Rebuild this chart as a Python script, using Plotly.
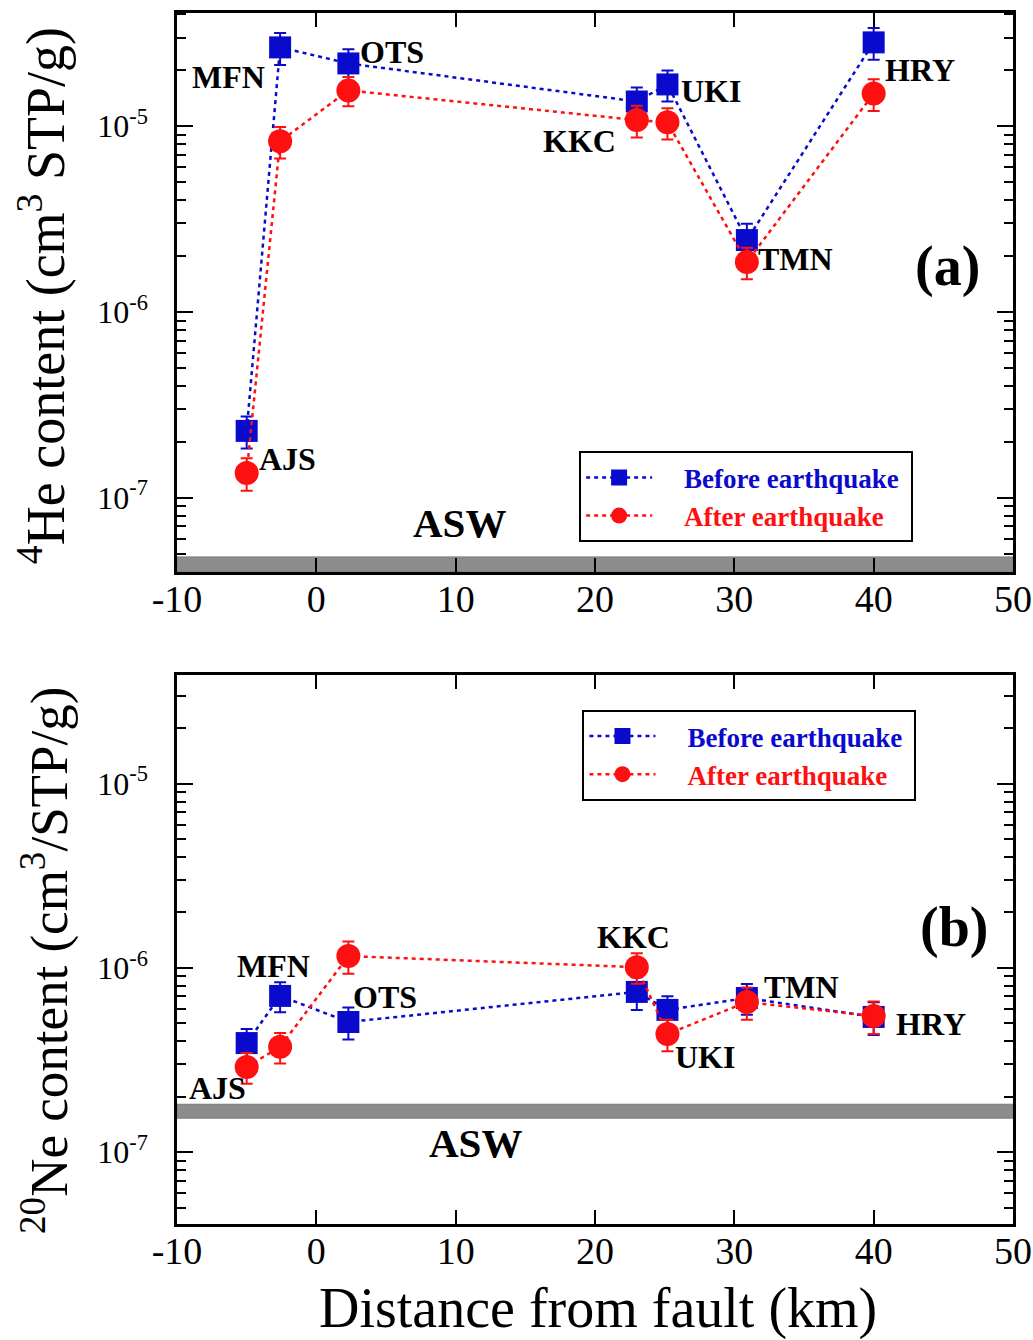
import plotly.graph_objects as go

# ---------------- data ----------------
stations = ["AJS", "MFN", "OTS", "KKC", "UKI", "TMN", "HRY"]
distance_km = [-5.0, -2.6, 2.3, 23.0, 25.2, 30.9, 40.0]

he_before = [2.29e-7, 2.66e-5, 2.18e-5, 1.36e-5, 1.68e-5, 2.44e-6, 2.83e-5]
he_before_err = [4.5e-8, 5.2e-6, 4.2e-6, 2.6e-6, 3.2e-6, 5.5e-7, 5.5e-6]
he_after = [1.36e-7, 8.3e-6, 1.56e-5, 1.08e-5, 1.05e-5, 1.86e-6, 1.50e-5]
he_after_err = [2.7e-8, 1.6e-6, 2.8e-6, 2.1e-6, 2.0e-6, 3.6e-7, 2.9e-6]

ne_before = [3.91e-7, 7.05e-7, 5.09e-7, 7.41e-7, 5.92e-7, 6.87e-7, 5.42e-7]
ne_before_err = [7.5e-8, 1.3e-7, 1.0e-7, 1.5e-7, 1.1e-7, 1.3e-7, 1.1e-7]
ne_after = [2.90e-7, 3.73e-7, 1.16e-6, 1.01e-6, 4.38e-7, 6.53e-7, 5.48e-7]
ne_after_err = [5.5e-8, 7.0e-8, 2.3e-7, 1.9e-7, 8.5e-8, 1.3e-7, 1.1e-7]

asw_he = [3.98e-8, 4.8e-8]    # ASW band, 4He
asw_ne = [1.53e-7, 1.82e-7]   # ASW band, 20Ne

x_ticks = [-10, 0, 10, 20, 30, 40, 50]
x_ticktext = ["-10", "0", "10", "20", "30", "40", "50"]
y_ticks = [1e-7, 1e-6, 1e-5]
y_ticktext = ["10<sup>-7</sup>", "10<sup>-6</sup>", "10<sup>-5</sup>"]

# ---------------- style ----------------
FONT = "Liberation Serif"
BLUE = "#0a0acc"
RED = "#ff1010"

# label positions (x in km, y in log10 units) for annotations
he_label_pos = {"AJS": (-2.1, -6.79), "MFN": (-6.3, -4.737), "OTS": (5.4, -4.602),
                "KKC": (18.9, -5.081), "UKI": (28.35, -4.812), "TMN": (34.4, -5.715),
                "HRY": (43.3, -4.699)}
ne_label_pos = {"AJS": (-7.1, -6.652), "MFN": (-3.1, -5.989), "OTS": (4.9, -6.158),
                "KKC": (22.76, -5.832), "UKI": (27.9, -6.484), "TMN": (34.8, -6.103),
                "HRY": (44.1, -6.304)}

minor_vals = [m * 10.0 ** e for e in range(-9, -3) for m in range(2, 10)]

fig = go.Figure()


def add_series(y, err, xa, ya, name, color, symbol, size, legend):
    fig.add_trace(go.Scatter(
        x=distance_km, y=y, xaxis=xa, yaxis=ya,
        mode="lines+markers",
        name=("&nbsp;&nbsp;&nbsp;&nbsp;<span style='color:%s'><b>%s</b></span>&nbsp;"
              % (color, name)),
        line=dict(color=color, width=2.5, dash="4px,4px", shape="linear"),
        marker=dict(color=color, symbol=symbol, size=size, line=dict(width=0)),
        error_y=dict(type="data", array=err, color=color, thickness=2, width=6),
        legend=legend,
    ))


add_series(he_before, he_before_err, "x", "y", "Before earthquake", BLUE, "square", 22, "legend")
add_series(he_after, he_after_err, "x", "y", "After earthquake", RED, "circle", 24, "legend")
add_series(ne_before, ne_before_err, "x2", "y2", "Before earthquake", BLUE, "square", 22, "legend2")
add_series(ne_after, ne_after_err, "x2", "y2", "After earthquake", RED, "circle", 24, "legend2")

# ASW bands
fig.add_shape(type="rect", xref="x domain", yref="y", x0=0, x1=1, y0=asw_he[0], y1=asw_he[1],
              fillcolor="#8c8c8c", line=dict(color="#7a7a7a", width=1), layer="below")
fig.add_shape(type="rect", xref="x2 domain", yref="y2", x0=0, x1=1, y0=asw_ne[0], y1=asw_ne[1],
              fillcolor="#8c8c8c", line=dict(color="#7a7a7a", width=1), layer="below")

annotations = []
for s in stations:
    px, py = he_label_pos[s]
    annotations.append(dict(x=px, y=py, xref="x", yref="y", text=f"<b>{s}</b>", showarrow=False,
                            xanchor="center", yanchor="middle",
                            font=dict(family=FONT, size=32, color="black")))
    px, py = ne_label_pos[s]
    annotations.append(dict(x=px, y=py, xref="x2", yref="y2", text=f"<b>{s}</b>", showarrow=False,
                            xanchor="center", yanchor="middle",
                            font=dict(family=FONT, size=32, color="black")))

annotations += [
    dict(x=10.3, y=-7.134, xref="x", yref="y", text="<b>ASW</b>", showarrow=False,
         xanchor="center", yanchor="middle", font=dict(family=FONT, size=41, color="black")),
    dict(x=11.4, y=-6.951, xref="x2", yref="y2", text="<b>ASW</b>", showarrow=False,
         xanchor="center", yanchor="middle", font=dict(family=FONT, size=41, color="black")),
    dict(x=45.3, y=-5.753, xref="x", yref="y", text="<b>(a)</b>", showarrow=False,
         xanchor="center", yanchor="middle", font=dict(family=FONT, size=56, color="black")),
    dict(x=45.75, y=-5.783, xref="x2", yref="y2", text="<b>(b)</b>", showarrow=False,
         xanchor="center", yanchor="middle", font=dict(family=FONT, size=56, color="black")),
    dict(x=-0.1615, y=0.767, xref="paper", yref="paper", textangle=-90,
         xanchor="center", yanchor="middle",
         text="<sup>4</sup>He content (cm<sup>3</sup> STP/g)", showarrow=False,
         font=dict(family=FONT, size=54, color="black")),
    dict(x=-0.158, y=0.218, xref="paper", yref="paper", textangle=-90,
         xanchor="center", yanchor="middle",
         text="<sup>20</sup>Ne content (cm<sup>3</sup>/STP/g)", showarrow=False,
         font=dict(family=FONT, size=53, color="black")),
    dict(x=0.5036, y=-0.0694, xref="paper", yref="paper",
         xanchor="center", yanchor="middle",
         text="Distance from fault (km)", showarrow=False,
         font=dict(family=FONT, size=56, color="black")),
]

xaxis_common = dict(range=[-10, 50], tickvals=x_ticks, ticktext=x_ticktext, ticks="inside",
                    ticklen=14, tickwidth=2, tickcolor="black", showline=True, linewidth=2.5,
                    linecolor="black", mirror="ticks", showgrid=False, zeroline=False,
                    ticklabelstandoff=-8, automargin=False,
                    tickfont=dict(family=FONT, size=38, color="black"))
yaxis_common = dict(type="log", tickvals=y_ticks, ticktext=y_ticktext, ticks="inside",
                    ticklen=16, tickwidth=2, tickcolor="black", showline=True, linewidth=2.5,
                    linecolor="black", mirror="ticks", showgrid=False, zeroline=False,
                    ticklabelstandoff=20, automargin=False,
                    minor=dict(tickvals=minor_vals, ticks="inside", ticklen=9, tickwidth=2,
                               tickcolor="black", showgrid=False),
                    tickfont=dict(family=FONT, size=32, color="black"))

legend_common = dict(xanchor="left", yanchor="top", bgcolor="white", bordercolor="black",
                     borderwidth=2, font=dict(family=FONT, size=27), itemwidth=66,
                     itemsizing="trace", tracegroupgap=0)

fig.update_layout(
    template="none",
    width=1033, height=1340, autosize=False,
    margin=dict(l=177, r=20, t=13, b=116, autoexpand=False),
    paper_bgcolor="white", plot_bgcolor="white",
    xaxis=dict(domain=[0, 1], anchor="y", **xaxis_common),
    yaxis=dict(domain=[0.5384, 1], anchor="x", range=[-7.40, -4.39], **yaxis_common),
    xaxis2=dict(domain=[0, 1], anchor="y2", **xaxis_common),
    yaxis2=dict(domain=[0, 0.4533], anchor="x2", range=[-7.39, -4.41], **yaxis_common),
    legend=dict(x=0.481, y=0.638, **legend_common),
    legend2=dict(x=0.485, y=0.4244, **legend_common),
    annotations=annotations,
    showlegend=True,
)

fig.write_html(
    "out.html",
    config={"responsive": False, "displayModeBar": False},
    post_script="document.body.style.margin='0px';document.body.style.overflow='hidden';"
                "document.documentElement.style.overflow='hidden';",
)
